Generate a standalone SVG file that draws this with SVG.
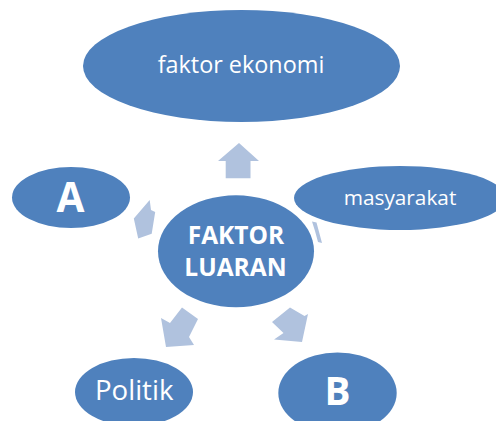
<svg xmlns="http://www.w3.org/2000/svg" width="496" height="421" viewBox="0 0 496 421">
<style>
.node{fill:#4F81BD}
.arr{fill:#B0C2DE}
.t{fill:#FFFFFF;font-family:"Open Sans","Liberation Sans",sans-serif;text-anchor:middle}
.b{font-weight:bold}
</style>
<rect width="496" height="421" fill="#FFFFFF"/>
<g id="connectors">
<polygon class="arr" points="239,143 259,161 250.5,161 250.5,178.3 225.7,178.3 225.7,161 218,161"/>
<polygon class="arr" points="149.7,200 133.8,218.5 138.2,238.5 151.7,233.8 155.2,212 151,210"/>
<polygon class="arr" points="312,221.5 316.5,222.5 322,243 318,242 315,231"/>
<polygon class="arr" points="182,307.5 198,319 189,337 194,345 166,347 161,318 170,323"/>
<polygon class="arr" points="290,307.5 304.5,316 308,314 302,342 274,339.5 283.5,333 272,322"/>
</g>
<g id="node-ekonomi">
<ellipse class="node" cx="241.5" cy="66" rx="158.5" ry="56"/>
<text class="t" x="241" y="73.3" font-size="23.4">faktor ekonomi</text>
</g>
<g id="node-A">
<ellipse class="node" cx="71" cy="197.5" rx="59" ry="30.5"/>
<text class="t b" x="70.5" y="212" font-size="40.5">A</text>
</g>
<g id="node-masyarakat">
<ellipse class="node" cx="400" cy="198" rx="106" ry="32"/>
<text class="t" x="400" y="205" font-size="20.8">masyarakat</text>
</g>
<g id="node-center">
<ellipse class="node" cx="236" cy="251.3" rx="78" ry="56"/>
<text class="t b" x="236" y="244.3" font-size="24.5">FAKTOR</text>
<text class="t b" x="235.5" y="276" font-size="24.5">LUARAN</text>
</g>
<g id="node-politik">
<ellipse class="node" cx="134" cy="392" rx="59" ry="34"/>
<text class="t" x="134.2" y="400" font-size="27.6">Politik</text>
</g>
<g id="node-B">
<ellipse class="node" cx="337.5" cy="393" rx="59.2" ry="40.5"/>
<text class="t b" x="337.5" y="405" font-size="38.7">B</text>
</g>
</svg>
